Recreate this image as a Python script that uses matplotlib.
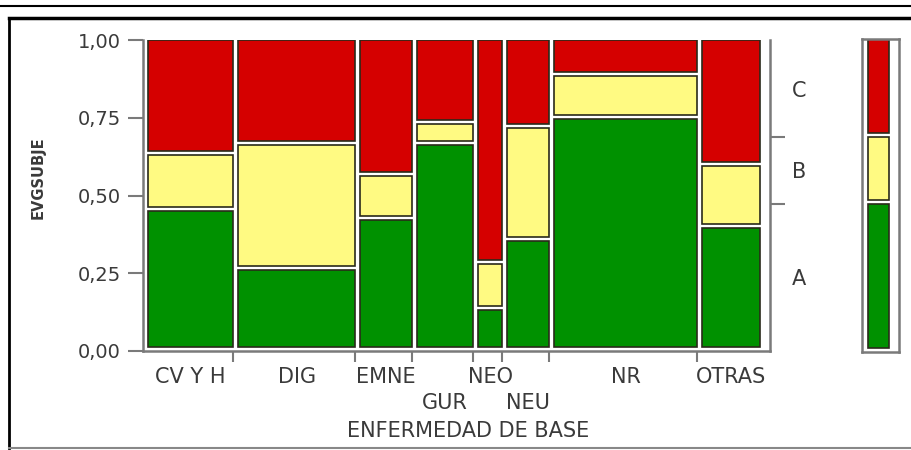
import matplotlib.pyplot as plt
import numpy as np
from matplotlib.patches import Rectangle
from matplotlib.lines import Line2D

# Datos del gráfico de mosaico
categorias = ["CV Y H", "DIG", "EMNE", "GUR", "NEO", "NEU", "NR", "OTRAS"]
fila_etiqueta = [0, 0, 0, 1, 0, 1, 0, 0]  # fila de la etiqueta en el eje x
anchos = [0.146, 0.198, 0.092, 0.099, 0.047, 0.076, 0.240, 0.102]  # proporción de casos
prop_A = [0.450, 0.260, 0.421, 0.662, 0.132, 0.354, 0.746, 0.395]
prop_B = [0.179, 0.402, 0.142, 0.068, 0.148, 0.363, 0.138, 0.200]
prop_C = [0.371, 0.338, 0.437, 0.270, 0.720, 0.283, 0.116, 0.405]
niveles = ["A", "B", "C"]
colores = ["#009100", "#FFFA82", "#D50000"]
yticks = [0.0, 0.25, 0.5, 0.75, 1.0]
yticklabels = ["0,00", "0,25", "0,50", "0,75", "1,00"]

plt.rcParams['font.family'] = ['DejaVu Sans']
gris = "#7a7a7a"
texto = "#3a3a3a"

W, H = 912, 450
fig = plt.figure(figsize=(W / 100, H / 100), dpi=100)

def caja(x0, y0, x1, y1):
    # posición en píxeles (origen arriba a la izquierda) -> fracción de figura
    return [x0 / W, 1 - y1 / H, (x1 - x0) / W, (y1 - y0) / H]

anchos = np.array(anchos) / np.sum(anchos)
props = np.array([prop_A, prop_B, prop_C])
props = props / props.sum(axis=0)
bordes = np.concatenate([[0], np.cumsum(anchos)])

ax = fig.add_axes(caja(143, 40, 770, 351))
gx = 5 / 617
gy = 4 / 311
for i in range(len(categorias)):
    base = 0
    for k in range(3):
        alto = props[k, i]
        ax.add_patch(Rectangle((bordes[i] + gx, base + gy), anchos[i] - gx, alto - gy,
                               facecolor=colores[k], edgecolor="#2a2a1a", linewidth=1.2))
        base += alto

ax.set_xlim(0, 627 / 617)
ax.set_ylim(0, 1)
ax.spines["top"].set_visible(False)
for s in ["left", "bottom", "right"]:
    ax.spines[s].set_color(gris)
    ax.spines[s].set_linewidth(1.8)

ax.set_yticks(yticks)
ax.set_yticklabels(yticklabels, fontsize=14, color=texto)
ax.tick_params(axis="y", length=11, width=1.5, color=gris, pad=5)
fig.text(38 / W, 1 - 178 / H, "EVGSUBJE", fontsize=10.5, color=texto, weight="bold",
         family=['Liberation Sans Narrow', 'DejaVu Sans'],
         rotation=90, ha="center", va="center")

# marcas en los límites de las categorías, etiquetas en dos filas
ax.set_xticks(bordes[1:-1])
ax.set_xticklabels([])
ax.tick_params(axis="x", which="major", length=8, width=1.5, color=gris)
centros = (bordes[:-1] + gx + bordes[1:]) / 2
filas_y = [-32 / 311, -58 / 311]
for c, xc, f in zip(categorias, centros, fila_etiqueta):
    ax.text(xc, filas_y[f], c, transform=ax.get_xaxis_transform(), fontsize=15,
            color=texto, ha="center", va="baseline", clip_on=False)

# eje derecho con la distribución marginal
marg = props @ anchos
lim_marg = np.cumsum(marg)
ax2 = ax.twinx()
ax2.set_ylim(0, 1)
ax2.set_yticks(lim_marg[:-1])
ax2.set_yticklabels([])
ax2.tick_params(axis="y", which="major", length=11, width=1.5, color=gris)
ax2.set_yticks(lim_marg - marg / 2, minor=True)
ax2.set_yticklabels(niveles, minor=True, fontsize=15, color=texto)
ax2.tick_params(axis="y", which="minor", length=0, pad=16)
for s in ax2.spines.values():
    s.set_visible(False)

fig.text(468 / W, 1 - 437 / H, "ENFERMEDAD DE BASE", fontsize=15, color=texto,
         ha="center", va="baseline")

# barra marginal
axm = fig.add_axes(caja(862, 39, 899, 352))
axm.set_xlim(0, 37)
axm.set_ylim(0, 1)
base = 0
for k in range(3):
    axm.add_patch(Rectangle((6, base + gy), 21, marg[k] - gy,
                            facecolor=colores[k], edgecolor="#2a2a1a", linewidth=1.2))
    base += marg[k]
axm.set_xticks([])
axm.set_yticks([])
for s in axm.spines.values():
    s.set_color(gris)
    s.set_linewidth(1.8)

# marco de la imagen
fig.add_artist(Line2D([0, 1], [1 - 6 / H, 1 - 6 / H], transform=fig.transFigure,
                      color="black", linewidth=1.5))
fig.add_artist(Line2D([9 / W, 1], [1 - 18 / H, 1 - 18 / H], transform=fig.transFigure,
                      color="black", linewidth=2.5))
fig.add_artist(Line2D([9 / W, 9 / W], [1 - 18 / H, 1 - 448 / H], transform=fig.transFigure,
                      color="black", linewidth=2))
fig.add_artist(Line2D([9 / W, 1], [1 - 448 / H, 1 - 448 / H], transform=fig.transFigure,
                      color="#888888", linewidth=1.5))

fig.savefig("out.png", dpi=100)
